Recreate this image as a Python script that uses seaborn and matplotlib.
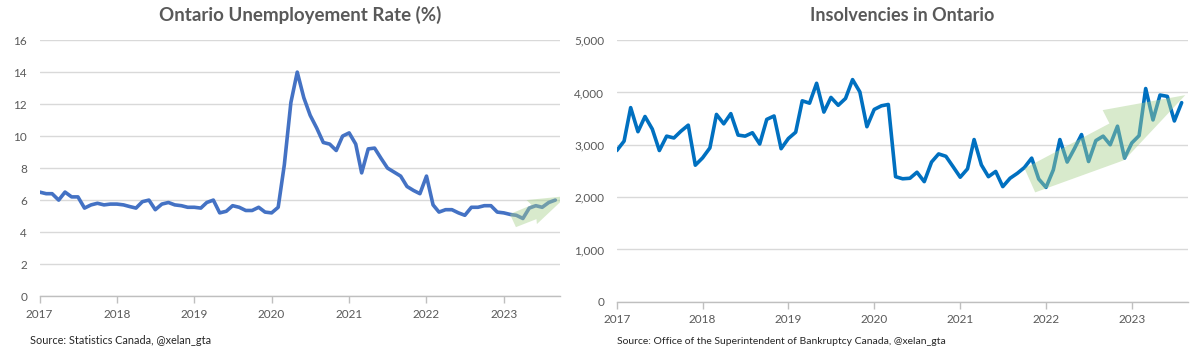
import numpy as np
import pandas as pd
import matplotlib
matplotlib.use("Agg")
import matplotlib.pyplot as plt
import matplotlib.dates as mdates
import matplotlib.ticker as mticker
import seaborn as sns

# --- data (monthly) ---
unemp_start = "2017-01-01"
unemp_rate = [6.5, 6.4, 6.4, 6.0, 6.5, 6.2, 6.2, 5.5, 5.7, 5.8, 5.7, 5.75,
              5.75, 5.7, 5.6, 5.5, 5.9, 6.0, 5.4, 5.75, 5.85, 5.7, 5.65, 5.55,
              5.55, 5.5, 5.85, 6.0, 5.2, 5.3, 5.65, 5.55, 5.35, 5.35, 5.55, 5.25,
              5.2, 5.55, 8.2, 12.1, 14.0, 12.4, 11.3, 10.5, 9.6, 9.5, 9.1, 10.0,
              10.2, 9.5, 7.7, 9.2, 9.25, 8.6, 8.0, 7.75, 7.5, 6.85, 6.6, 6.4,
              7.5, 5.7, 5.25, 5.4, 5.4, 5.2, 5.05, 5.55, 5.55, 5.65, 5.65, 5.25,
              5.2, 5.1, 5.05, 4.85, 5.5, 5.65, 5.55, 5.85, 6.0]

insolv_start = "2017-01-01"
insolvencies = [2890, 3070, 3710, 3250, 3540, 3300, 2890, 3165, 3130, 3260, 3375, 2610,
                2750, 2940, 3580, 3400, 3595, 3185, 3165, 3230, 3015, 3485, 3550, 2925,
                3120, 3240, 3840, 3795, 4175, 3625, 3905, 3755, 3885, 4245, 4010, 3345,
                3675, 3745, 3770, 2390, 2350, 2360, 2475, 2295, 2670, 2825, 2780, 2585,
                2380, 2540, 3100, 2615, 2390, 2490, 2200, 2360, 2455, 2565, 2745, 2345,
                2185, 2520, 3100, 2670, 2920, 3195, 2680, 3080, 3165, 3000, 3355, 2745,
                3035, 3175, 4075, 3475, 3950, 3925, 3455, 3805]

years = list(range(2017, 2024))
unemp_yticks = list(range(0, 17, 2))
insolv_yticks = list(range(0, 5001, 1000))

# trend arrows: (year fraction, value) outline points
unemp_arrow_x = [2023.077, 2023.358, 2023.293, 2023.810, 2023.426, 2023.420, 2023.155]
unemp_arrow_y = [5.125, 5.69, 6.0, 6.25, 4.5, 4.81, 4.31]
insolv_arrow_x = [2021.749, 2022.738, 2022.659, 2023.621, 2022.930, 2022.900, 2021.873]
insolv_arrow_y = [2548, 3407, 3662, 3948, 2739, 2700, 2090]

df_u = pd.DataFrame({"date": pd.date_range(unemp_start, periods=len(unemp_rate), freq="MS"),
                     "rate": unemp_rate})
df_i = pd.DataFrame({"date": pd.date_range(insolv_start, periods=len(insolvencies), freq="MS"),
                     "count": insolvencies})


def yr(v):
    return pd.Timestamp("2017-01-01") + pd.Timedelta(days=365.25 * (v - 2017))


sns.set_theme(style="white")
plt.rcParams["font.family"] = ["Lato", "DejaVu Sans"]

text_col = "#595959"
grid_col = "#d9d9d9"

fig = plt.figure(figsize=(12, 3.55), dpi=100)
ax1 = fig.add_axes([0.033, 0.166, 0.434, 0.721])
ax2 = fig.add_axes([0.514, 0.150, 0.476, 0.737])


def style_axis(ax, yticks, xmax):
    ax.set_xlim(pd.Timestamp("2017-01-01"), xmax)
    ax.set_ylim(yticks[0], yticks[-1])
    ax.set_yticks(yticks)
    ax.set_xticks([pd.Timestamp(f"{y}-01-01") for y in years])
    ax.xaxis.set_major_formatter(mdates.DateFormatter("%Y"))
    ax.grid(axis="y", color=grid_col, linewidth=1)
    ax.set_axisbelow(True)
    for s in ["top", "right", "left"]:
        ax.spines[s].set_visible(False)
    ax.spines["bottom"].set_color("#bfbfbf")
    ax.spines["bottom"].set_linewidth(1)
    ax.tick_params(axis="x", bottom=True, length=5, width=1, color="#bfbfbf",
                   labelsize=8.5, labelcolor=text_col, pad=4)
    ax.tick_params(axis="y", left=False, length=0, labelsize=8.5,
                   labelcolor=text_col, pad=9)
    ax.set_xlabel("")
    ax.set_ylabel("")


# --- left: unemployment rate ---
sns.lineplot(data=df_u, x="date", y="rate", ax=ax1, color="#4472c4", linewidth=2.6)
style_axis(ax1, unemp_yticks, pd.Timestamp("2023-09-25"))
ax1.fill([yr(v) for v in unemp_arrow_x], unemp_arrow_y, color="#a9d18e",
         alpha=0.45, linewidth=0, zorder=5)
ax1.set_title("Ontario Unemployement Rate (%)", fontsize=13.5, fontweight="bold",
              color=text_col, pad=14)

# --- right: insolvencies ---
sns.lineplot(data=df_i, x="date", y="count", ax=ax2, color="#0070c0", linewidth=2.6)
style_axis(ax2, insolv_yticks, pd.Timestamp("2023-08-28"))
ax2.yaxis.set_major_formatter(mticker.StrMethodFormatter("{x:,.0f}"))
ax2.fill([yr(v) for v in insolv_arrow_x], insolv_arrow_y, color="#a9d18e",
         alpha=0.45, linewidth=0, zorder=5)
ax2.set_title("Insolvencies in Ontario", fontsize=13, fontweight="bold",
              color=text_col, pad=14)

fig.text(30 / 1200, 1 - 341 / 355, "Source: Statistics Canada, @xelan_gta",
         fontsize=7.8, color="#262626", va="center")
fig.text(617 / 1200, 1 - 341 / 355,
         "Source: Office of the Superintendent of Bankruptcy Canada, @xelan_gta",
         fontsize=7.5, color="#262626", va="center")

fig.savefig("out.png", dpi=100)
